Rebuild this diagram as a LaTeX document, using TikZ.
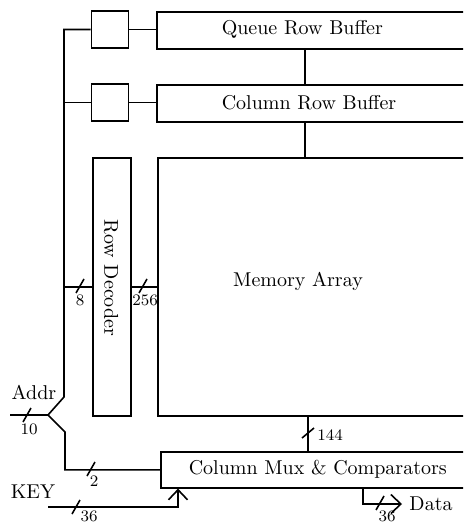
\documentclass[tikz,border=0pt]{standalone}
\usepackage{tikz}
\usepackage{graphicx}
\usetikzlibrary{arrows.meta, positioning, calc}

\begin{document}
\begin{tikzpicture}[x=0.5pt, y=-0.5pt, line width=0.8pt,
    box/.style={draw, inner sep=0pt, minimum height=18.5pt},
    wide/.style={box, minimum width=200pt, anchor=north west},
    sel/.style={box, minimum width=18.5pt},
    txt/.style={inner sep=0pt},
    num/.style={font=\footnotesize, inner sep=0pt},
    tip/.style={-{Straight Barb[length=5pt, width=9.5pt]}}]
  \useasboundingbox (0,0) rectangle (463,522);
  \clip (0,0) rectangle (463,522);

  % buffers at the top
  \node[sel] (qsel) at (110,29.5) {};
  \node[sel] (csel) at (110,102.5) {};
  \node[wide] (qbuf) at (156,11) {};
  \node[wide] (cbuf) at (156,84) {};
  \node[txt, anchor=west] (qtxt) at (221,29.5) {Queue Row Buffer};
  \node[txt, anchor=west] (ctxt) at (221,102.5) {Column Row Buffer};

  % array and decoder
  \node[wide, minimum height=129pt] (mem) at (157,157) {};
  \node[box, minimum width=19pt, minimum height=129pt, anchor=north west] (rowdec) at (92,157) {};
  \node[txt, rotate=-90] (rtxt) at (111,278) {Row Decoder};
  \node[txt] (mtxt) at (298,281) {Memory Array};

  % column mux
  \node[wide, minimum height=18pt] (mux) at (160,451) {};
  \node[txt, anchor=west] (xtxt) at (188,469) {Column Mux \& Comparators};

  \coordinate (bend) at (64,397);
  \coordinate (split) at (48,415);
  \coordinate (addr) at (10,415);
  \coordinate (key) at (48,507);
  \coordinate (keyin) at (178,0);
  \coordinate (col) at (305,0);
  \coordinate (out) at (308,0);
  \coordinate (dout) at (363,0);

  \node[txt] (addrlbl) at (34,392) {Addr};
  \node[txt] (keylbl) at (33,492) {KEY};
  \node (data) at (431,504) {Data};

  % connections
  \draw (qsel.east) -- (qsel.east -| qbuf.west);
  \draw (csel.east) -- (csel.east -| cbuf.west);
  \draw (qbuf.south -| col) -- (cbuf.north -| col);
  \draw (cbuf.south -| col) -- (mem.north -| col);
  \draw (qsel.west) -| (bend) -- (split);
  \draw (csel.west) -- (csel.west -| bend);
  \draw (bend |- rowdec.west) -- (rowdec.west);
  \draw (rowdec.east) -- (mem.west |- rowdec.east);
  \draw (addr) -- (split) -- ++(17,17) |- (mux.west);
  \draw (mem.south -| out) -- (mux.north -| out);
  \draw[tip] (key) -| (mux.south -| keyin);
  \draw[tip] (mux.south -| dout) |- (data.west);

  % bus widths
  \foreach \x/\y in {80/286, 143/286, 27/415, 91/469, 76/507, 380/503}
    \draw (\x-4,\y+7) -- (\x+4,\y-7);
  \draw (302,438) -- (314,428);
  \foreach \x/\y/\n [count=\i] in {80/300/8, 145/300/256, 29/429/10, 94/481/2,
      89/516/36, 387/516/36, 330/435/144}
    \node[num] (w\i) at (\x,\y) {\n};
\end{tikzpicture}
\end{document}
